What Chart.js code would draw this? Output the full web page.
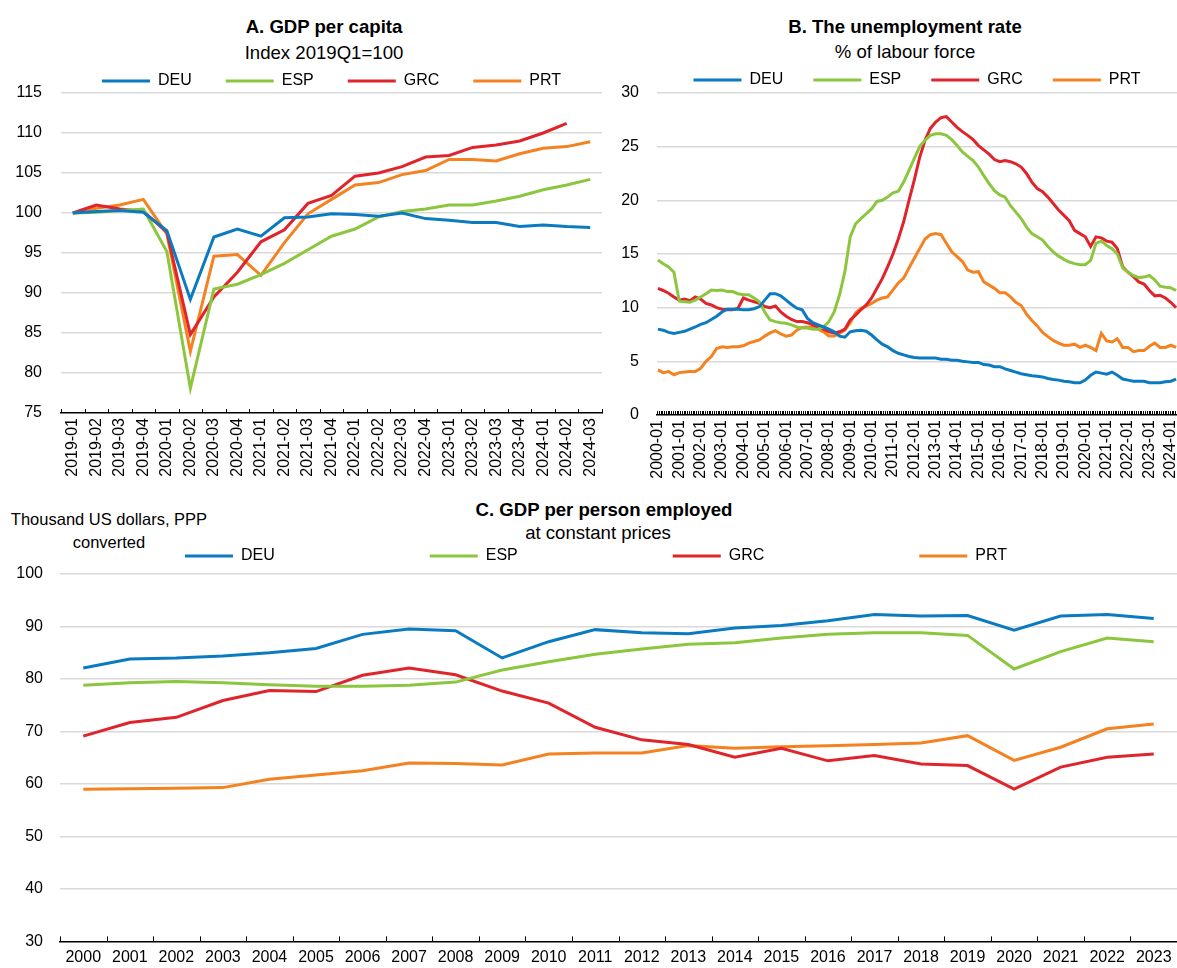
<!DOCTYPE html>
<html>
<head>
<meta charset="utf-8">
<title>GDP per capita, unemployment and GDP per person employed</title>
<script src="https://cdn.jsdelivr.net/npm/chart.js@4.4.1/dist/chart.umd.min.js"></script>
<style>
  body { margin: 0; background: #fff; font-family: 'Liberation Sans', Arial, Helvetica, sans-serif; color: #000; }
  #page { position: relative; width: 1177px; height: 968px; overflow: hidden; }
  canvas { position: absolute; }
  .title, .sub, .unit { position: absolute; width: 400px; text-align: center; white-space: nowrap; }
  .title { font-weight: bold; font-size: 18.6px; line-height: 22px; }
  .sub { font-size: 18.6px; line-height: 22px; }
  .unit { font-size: 16.5px; line-height: 23px; width: 240px; }
</style>
</head>
<body>
<div id="page">
  <div class="title" style="left:124px; top:16px;">A. GDP per capita</div>
  <div class="sub" style="left:124px; top:42px;">Index 2019Q1=100</div>
  <div class="title" style="left:705px; top:16px;">B. The unemployment rate</div>
  <div class="sub" style="left:705px; top:41px;">% of labour force</div>
  <div class="title" style="left:404px; top:499px;">C. GDP per person employed</div>
  <div class="sub" style="left:398px; top:522px;">at constant prices</div>
  <div class="unit" style="left:-11px; top:508px;">Thousand US dollars, PPP<br>converted</div>

  <canvas id="chartA" width="603" height="483" style="left:0; top:0;"></canvas>
  <canvas id="chartB" width="582" height="483" style="left:595px; top:0;"></canvas>
  <canvas id="chartC" width="1177" height="588" style="left:0; top:380px;"></canvas>
</div>

<script>
// Fonts and colours shared by the three panels
const FONT = "'Liberation Sans', Arial, Helvetica, sans-serif";
const countries = ['DEU', 'ESP', 'GRC', 'PRT'];
const colours = ['#0b7bc1', '#8cc63f', '#e0242b', '#f58220'];

// Panel A: GDP per capita, index 2019Q1=100
const quartersA = ['2019-01', '2019-02', '2019-03', '2019-04', '2020-01', '2020-02', '2020-03', '2020-04',
    '2021-01', '2021-02', '2021-03', '2021-04', '2022-01', '2022-02', '2022-03', '2022-04',
    '2023-01', '2023-02', '2023-03', '2023-04', '2024-01', '2024-02', '2024-03'];
const gdpDEU = [100, 100.2, 100.3, 100.1, 97.8, 89.2, 97.0, 98.0, 97.1, 99.4, 99.5, 99.9, 99.8, 99.6, 100.0, 99.3, 99.1, 98.8, 98.8, 98.3, 98.5, 98.3, 98.2];
const gdpESP = [100, 100.1, 100.3, 100.5, 95.2, 78.1, 90.5, 91.1, 92.3, 93.7, 95.4, 97.1, 98.0, 99.5, 100.2, 100.5, 101.0, 101.0, 101.5, 102.1, 102.9, 103.5, 104.2];
const gdpGRC = [100, 101.0, 100.5, 100.2, 97.6, 84.8, 89.5, 92.6, 96.4, 97.9, 101.2, 102.2, 104.6, 105.0, 105.8, 107.0, 107.2, 108.2, 108.5, 109.0, 110.0, 111.2, null];
const gdpPRT = [100, 100.6, 101.0, 101.7, 97.4, 82.7, 94.6, 94.8, 92.2, 96.3, 99.9, 101.7, 103.5, 103.8, 104.8, 105.3, 106.7, 106.7, 106.5, 107.4, 108.1, 108.3, 108.9];

// Panel B: unemployment rate, read every quarter (Jan, Apr, Jul, Oct) from 2000-01 to 2024-04
const unempDEU = [
    8.0, 7.9, 7.7, 7.6, 7.7, 7.8, 8.0, 8.2, 8.45, 8.6, 8.9, 9.2, 9.6, 9.85, 9.85, 9.85,
    9.8, 9.8, 9.9, 10.1, 10.7, 11.3, 11.3, 11.1, 10.7, 10.3, 9.95, 9.8, 9.0, 8.6, 8.4, 8.2,
    8.0, 7.75, 7.35, 7.25, 7.75, 7.85, 7.9, 7.8, 7.45, 7.0, 6.6, 6.35, 6.0, 5.75, 5.6, 5.45,
    5.35, 5.3, 5.3, 5.3, 5.3, 5.2, 5.2, 5.1, 5.1, 5.0, 4.95, 4.9, 4.9, 4.7, 4.65, 4.5,
    4.5, 4.3, 4.15, 4.0, 3.85, 3.75, 3.65, 3.6, 3.55, 3.4, 3.3, 3.25, 3.15, 3.1, 3.0, 3.0,
    3.25, 3.7, 4.0, 3.9, 3.8, 4.0, 3.7, 3.35, 3.25, 3.15, 3.15, 3.15, 3.0, 3.0, 3.0, 3.1,
    3.15, 3.35];
const unempESP = [
    14.45, 14.1, 13.8, 13.3, 10.6, 10.55, 10.5, 10.7, 11.0, 11.3, 11.65, 11.6, 11.65, 11.5, 11.5, 11.3,
    11.2, 11.2, 10.9, 10.55, 9.6, 8.85, 8.7, 8.6, 8.55, 8.4, 8.2, 8.1, 8.1, 8.0, 8.0, 8.2,
    8.7, 9.6, 11.2, 13.35, 16.6, 17.8, 18.3, 18.75, 19.2, 19.9, 20.0, 20.3, 20.7, 20.85, 21.7, 22.8,
    23.9, 25.0, 25.6, 26.05, 26.2, 26.2, 26.05, 25.65, 25.1, 24.5, 24.1, 23.7, 23.1, 22.3, 21.55, 20.9,
    20.5, 20.3, 19.5, 18.9, 18.3, 17.5, 16.9, 16.6, 16.3, 15.7, 15.2, 14.8, 14.5, 14.25, 14.1, 14.0,
    14.0, 14.4, 16.0, 16.2, 15.8, 15.5, 15.0, 13.7, 13.3, 13.0, 12.8, 12.85, 13.0, 12.6, 12.0, 11.9,
    11.85, 11.6];
const unempGRC = [
    11.8, 11.6, 11.35, 11.0, 10.7, 10.8, 10.65, 11.0, 10.8, 10.4, 10.25, 10.0, 9.85, 9.8, 9.8, 9.95,
    10.9, 10.7, 10.55, 10.4, 10.1, 10.0, 10.15, 9.6, 9.2, 8.9, 8.7, 8.7, 8.6, 8.4, 8.2, 8.0,
    7.75, 7.65, 7.75, 8.0, 8.85, 9.3, 9.8, 10.25, 10.9, 11.8, 12.7, 13.8, 15.0, 16.4, 18.0, 20.0,
    21.9, 24.0, 25.6, 26.7, 27.3, 27.7, 27.8, 27.3, 26.8, 26.4, 26.05, 25.65, 25.1, 24.7, 24.3, 23.8,
    23.6, 23.7, 23.6, 23.4, 23.1, 22.5, 21.7, 21.1, 20.8, 20.3, 19.7, 19.1, 18.6, 18.1, 17.2, 16.9,
    16.6, 15.7, 16.6, 16.5, 16.2, 16.1, 15.5, 13.8, 13.3, 12.9, 12.4, 12.2, 11.6, 11.1, 11.15, 10.9,
    10.5, 10.0];
const unempPRT = [
    4.2, 3.95, 4.05, 3.75, 3.95, 4.0, 4.05, 4.05, 4.35, 5.0, 5.45, 6.2, 6.35, 6.3, 6.35, 6.35,
    6.45, 6.7, 6.85, 7.0, 7.35, 7.65, 7.85, 7.55, 7.35, 7.45, 7.9, 8.15, 8.2, 8.15, 8.0, 7.75,
    7.35, 7.35, 7.6, 7.9, 8.6, 9.5, 9.95, 10.15, 10.4, 10.7, 10.9, 11.0, 11.65, 12.3, 12.75, 13.7,
    14.6, 15.5, 16.4, 16.8, 16.9, 16.8, 16.0, 15.2, 14.75, 14.3, 13.5, 13.3, 13.35, 12.4, 12.1, 11.8,
    11.4, 11.4, 11.0, 10.5, 10.2, 9.4, 8.8, 8.3, 7.7, 7.3, 6.95, 6.7, 6.5, 6.5, 6.6, 6.3,
    6.5, 6.3, 6.0, 7.6, 6.9, 6.8, 7.1, 6.3, 6.3, 5.9, 6.0, 6.0, 6.4, 6.7, 6.3, 6.3,
    6.5, 6.3];

// Panel C: GDP per person employed, thousand US dollars PPP
const yearsC = ['2000', '2001', '2002', '2003', '2004', '2005', '2006', '2007', '2008', '2009', '2010', '2011',
    '2012', '2013', '2014', '2015', '2016', '2017', '2018', '2019', '2020', '2021', '2022', '2023'];
const prodDEU = [82.1, 83.8, 84.0, 84.4, 85.0, 85.8, 88.5, 89.5, 89.2, 84.0, 87.1, 89.4, 88.8, 88.6, 89.7, 90.2, 91.1, 92.3, 92.0, 92.1, 89.3, 92.0, 92.3, 91.5];
const prodESP = [78.8, 79.3, 79.5, 79.3, 78.9, 78.6, 78.6, 78.8, 79.4, 81.7, 83.3, 84.7, 85.7, 86.6, 86.9, 87.8, 88.5, 88.8, 88.8, 88.3, 81.9, 85.2, 87.8, 87.1];
const prodGRC = [69.1, 71.7, 72.7, 75.9, 77.8, 77.6, 80.7, 82.1, 80.8, 77.7, 75.4, 70.8, 68.4, 67.5, 65.1, 66.8, 64.4, 65.4, 63.8, 63.5, 59.0, 63.2, 65.1, 65.7];
const prodPRT = [59.0, 59.1, 59.2, 59.3, 60.9, 61.7, 62.5, 64.0, 63.9, 63.6, 65.7, 65.9, 65.9, 67.3, 66.8, 67.1, 67.3, 67.5, 67.8, 69.2, 64.5, 67.0, 70.5, 71.4];

// Monthly category labels for panel B (2000-01 .. 2024-04)
const monthsB = [];
for (let y = 2000; y <= 2024; y++) {
    for (let m = 1; m <= 12; m++) {
        if (y === 2024 && m > 4) break;
        monthsB.push(y + '-' + String(m).padStart(2, '0'));
    }
}

// Put the quarterly readings on the monthly axis (gaps are bridged by the line)
function toMonthly(values) {
    const out = new Array(monthsB.length).fill(null);
    values.forEach(function(v, i) { out[i * 3] = v; });
    return out;
}

Chart.defaults.font.family = FONT;
Chart.defaults.font.size = 16;
Chart.defaults.color = '#000';

// Small tick marks pointing up into the plot at every category boundary
const innerTicks = {
    id: 'innerTicks',
    defaults: { length: 4 },
    afterDraw(chart, args, opts) {
        const x = chart.scales.x;
        const n = x.getLabels().length;
        const half = (x.getPixelForValue(1) - x.getPixelForValue(0)) / 2;
        const ctx = chart.ctx;
        ctx.save();
        ctx.strokeStyle = '#000';
        ctx.lineWidth = 1;
        ctx.beginPath();
        for (let i = 0; i <= n; i++) {
            const px = Math.round(x.getPixelForValue(i) - half) + 0.5;
            ctx.moveTo(px, x.top);
            ctx.lineTo(px, x.top - opts.length);
        }
        ctx.stroke();
        ctx.restore();
    }
};

function makeDatasets(seriesList) {
    return countries.map(function(name, i) {
        return {
            label: name,
            data: seriesList[i],
            borderColor: colours[i],
            backgroundColor: colours[i],
            borderWidth: 3,
            pointRadius: 0,
            tension: 0,
            spanGaps: true
        };
    });
}

// Default label: the category text itself
function categoryLabel(value) {
    return this.getLabelForValue(value);
}

function makeOptions(cfg) {
    return {
        responsive: false,
        animation: false,
        events: [],
        layout: { padding: cfg.padding },
        plugins: {
            title: { display: false },
            tooltip: { enabled: false },
            innerTicks: { length: cfg.tickLength },
            legend: {
                position: 'top',
                fullSize: cfg.legendFull,
                maxHeight: cfg.legendHeight,
                labels: {
                    usePointStyle: true,
                    pointStyle: 'line',
                    pointStyleWidth: 48,
                    padding: cfg.legendPadding,
                    color: '#000',
                    font: { size: 16 }
                }
            }
        },
        scales: {
            x: {
                offset: true,
                grid: { offset: true, drawOnChartArea: false, drawTicks: false },
                border: { display: true, color: '#000', width: 1.5 },
                ticks: {
                    autoSkip: false,
                    maxRotation: cfg.rotation,
                    minRotation: cfg.rotation,
                    padding: cfg.xPad,
                    font: { size: 16 },
                    callback: cfg.xCallback || categoryLabel
                },
                afterFit: function(scale) {
                    scale.height = cfg.xHeight;
                    // let the plot run to the panel edge, labels may overhang
                    scale.paddingLeft = 0;
                    scale.paddingRight = 0;
                }
            },
            y: {
                min: cfg.yMin,
                max: cfg.yMax,
                ticks: { stepSize: cfg.yStep, padding: cfg.yPad, font: { size: 16 } },
                grid: {
                    drawTicks: false,
                    lineWidth: 1.5,
                    color: function(ctx) {
                        return ctx.tick && ctx.tick.value === cfg.yMin ? 'rgba(0,0,0,0)' : '#d9d9d9';
                    }
                },
                border: { display: false },
                afterFit: function(scale) { scale.width = cfg.yWidth; }
            }
        }
    };
}

// Panel A
new Chart(document.getElementById('chartA'), {
    type: 'line',
    data: { labels: quartersA, datasets: makeDatasets([gdpDEU, gdpESP, gdpGRC, gdpPRT]) },
    options: makeOptions({
        padding: { top: 39, left: 0, right: 1, bottom: 0 },
        legendFull: false, legendHeight: 54, legendPadding: 34,
        rotation: 90, xPad: 5, xHeight: 70, tickLength: 4,
        yMin: 75, yMax: 115, yStep: 5, yPad: 19, yWidth: 61
    }),
    plugins: [innerTicks]
});

// Panel B
new Chart(document.getElementById('chartB'), {
    type: 'line',
    data: {
        labels: monthsB,
        datasets: makeDatasets([toMonthly(unempDEU), toMonthly(unempESP), toMonthly(unempGRC), toMonthly(unempPRT)])
    },
    options: makeOptions({
        padding: { top: 42, left: 0, right: 0, bottom: 0 },
        legendFull: false, legendHeight: 51, legendPadding: 30,
        rotation: 90, xPad: 5, xHeight: 68, tickLength: 4,
        xCallback: function(value) {
            const label = this.getLabelForValue(value);
            return label.endsWith('-01') ? label : '';
        },
        yMin: 0, yMax: 30, yStep: 5, yPad: 18, yWidth: 62
    }),
    plugins: [innerTicks]
});

// Panel C
new Chart(document.getElementById('chartC'), {
    type: 'line',
    data: { labels: yearsC, datasets: makeDatasets([prodDEU, prodESP, prodGRC, prodPRT]) },
    options: makeOptions({
        padding: { top: 13, left: 15, right: 0, bottom: 0 },
        legendFull: true, legendHeight: 181, legendPadding: 155,
        rotation: 0, xPad: 7, xHeight: 26, tickLength: 5,
        yMin: 30, yMax: 100, yStep: 10, yPad: 17, yWidth: 45
    }),
    plugins: [innerTicks]
});
</script>
</body>
</html>
